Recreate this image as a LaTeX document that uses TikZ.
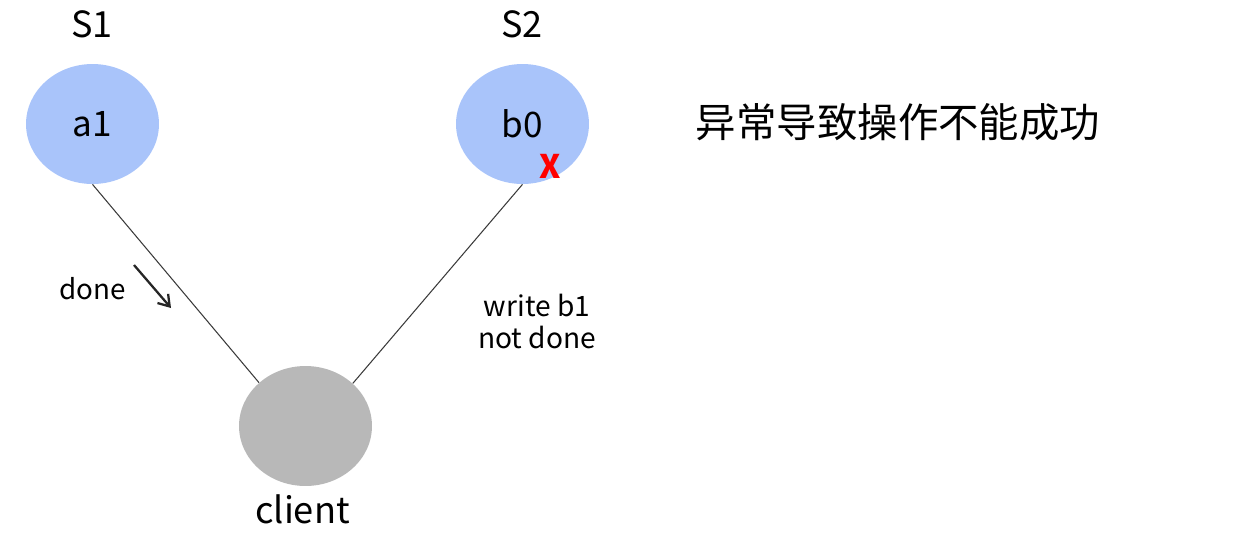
\documentclass[tikz,border=0pt]{standalone}
\usepackage{fontspec}
\setmainfont{Noto Sans CJK SC}
\usetikzlibrary{shapes.geometric,arrows.meta}
\definecolor{nodeblue}{HTML}{A9C4FA}
\definecolor{nodegray}{HTML}{B8B8B8}
\definecolor{linegray}{HTML}{3A3A3A}
\tikzset{
  server/.style={ellipse, fill=nodeblue, draw=none, minimum width=2.66cm, minimum height=2.4cm, inner sep=0pt, font=\fontsize{20}{24}\selectfont},
  clientnode/.style={ellipse, fill=nodegray, draw=none, minimum width=2.66cm, minimum height=2.4cm, inner sep=0pt},
  lbl/.style={anchor=base, inner sep=0pt},
  conn/.style={draw=linegray, line width=0.6pt},
}
\begin{document}
\begin{tikzpicture}[x=0.02cm,y=-0.02cm]
\useasboundingbox (0,0) rectangle (1245,549);
\node[server] (a1) at (92.5,124) {a1};
\node[server] (b0) at (522.5,124) {b0};
\node[clientnode] (client) at (305.5,426) {};
\node[lbl, font=\fontsize{20.5}{24}\selectfont] (s1) at (92,37) {S1};
\node[lbl, font=\fontsize{20.5}{24}\selectfont] (s2) at (522,37) {S2};
\node[lbl, font=\fontsize{20.6}{24}\selectfont] (clientlbl) at (302.5,523) {client};
\node[lbl, font=\fontsize{15.8}{19}\selectfont] (done) at (92.5,299) {done};
\node[align=center, inner sep=0pt, font=\fontsize{16}{18.2}\selectfont] (wb) at (537,321) {write b1\\not done};
\node[lbl, font=\fontsize{23}{27}\selectfont] (msg) at (898,137) {异常导致操作不能成功};
\node[lbl, text=red, font=\fontsize{18.5}{20}\selectfont\bfseries] (x) at (550,178) {X};
\draw[conn] (a1.south) -- (client.137);
\draw[conn] (b0.south) -- (client.42);
\coordinate (d1) at (134,265);
\coordinate (d2) at (171,308);
\draw[draw=black!85, line width=1.3pt, -{Straight Barb[length=6pt,width=8pt]}] (d1) -- (d2);
\end{tikzpicture}
\end{document}
